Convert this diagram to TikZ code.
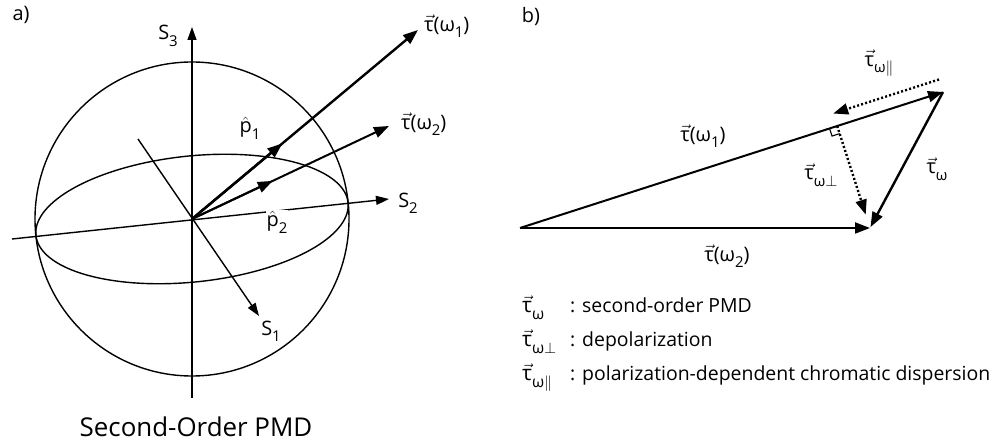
\documentclass[tikz,border=0pt]{standalone}
\usepackage{fontspec}
\setmainfont{Open Sans}
\usepackage{amsmath}
\usepackage{graphicx}
\usetikzlibrary{arrows.meta,calc}
\newcommand\tv{\ensuremath{\vec{\mbox{τ}}}}
\newcommand\lo[1]{\raisebox{-0.32em}{\scalebox{0.75}{#1}}}
\newcommand\phat{\ensuremath{\hat{\mbox{p}}}}
\tikzset{
  sphereline/.style={line width=1.4bp},
  axisarrow/.style={line width=1.4bp,-{Triangle[length=13bp,width=9bp]}},
  vecarrow/.style={line width=2.4bp,-{Triangle[length=15bp,width=11bp]}},
  medarrow/.style={line width=2bp,-{Triangle[length=15bp,width=11bp]}},
  dotarrow/.style={vecarrow,dash pattern=on 2bp off 2.2bp},
  lab/.style={font=\fontsize{20}{24}\selectfont,inner sep=1bp},
  legend/.style={font=\fontsize{19.5}{24}\selectfont,inner sep=0pt,anchor=base west},
  legsym/.style={font=\fontsize{21}{24}\selectfont,inner sep=0pt,anchor=base west}
}
\begin{document}
\begin{tikzpicture}[x=1bp,y=-1bp]
\fill[white] (0,0) rectangle (1005,441);
\useasboundingbox (0,0) rectangle (1005,441);
% ---------- panel a ----------
\node[lab] (alabel) at (21,15) {a)};
\coordinate (O) at (192,219);
\draw[sphereline] (O) circle[radius=157];
\draw[sphereline] plot[smooth cycle,domain=0:355,samples=72]
  ({192+156.1*cos(\x)+6.58*sin(\x)},{219-16.4*cos(\x)+62.65*sin(\x)});
\coordinate (s3a) at (192,398);
\coordinate (s3b) at (192,27);
\coordinate (s1a) at (138,139);
\coordinate (s1b) at (259,316);
\coordinate (s2a) at (12,239);
\coordinate (s2b) at (389,199);
\draw[axisarrow] (s3a) -- (s3b);
\draw[axisarrow] (s1a) -- (s1b);
\draw[axisarrow] (s2a) -- (s2b);
\node[lab] (S3) at (168,36) {S\lo{3}};
\node[lab] (S2) at (408,203) {S\lo{2}};
\node[lab] (S1) at (271,331) {S\lo{1}};
\coordinate (t1) at (418,30);
\coordinate (t2) at (389,126);
\coordinate (p1) at ($(O)!0.40!(t1)$);
\coordinate (p2) at ($(O)!0.41!(t2)$);
\draw[vecarrow] (O) -- (t1);
\draw[medarrow] (O) -- (t2);
\draw[vecarrow] (O) -- (p1);
\draw[medarrow] (O) -- (p2);
\node[lab,anchor=west] (t1lab) at (423,26) {\tv(ω\lo{1})};
\node[lab,anchor=west] (t2lab) at (400,124) {\tv(ω\lo{2})};
\node[lab] (p1lab) at (250,128) {\phat\lo{1}};
\node[lab,fill=white] (p2lab) at (277,222) {\phat\lo{2}};
\node[font=\fontsize{26}{30}\selectfont,anchor=base] (cap) at (196,436) {Second-Order PMD};
% ---------- panel b ----------
\node[lab] (blabel) at (531,17) {b)};
\coordinate (A) at (520,228);
\coordinate (B) at (870,228);
\coordinate (C) at (943,92);
\coordinate (F) at ($(A)!(B)!(C)$);
\coordinate (Cs) at ($(C)+(-4,-12.5)$);
\coordinate (Fs) at ($(F)+(-4,-12.5)$);
\coordinate (q1) at ($(F)!8bp!(A)$);
\coordinate (q2) at ($(F)!8bp!(B)$);
\draw[line width=1.1bp] (q1) -- ($(q1)+(q2)-(F)$) -- (q2);
\draw[medarrow] (A) -- (C);
\draw[medarrow] (A) -- (B);
\draw[vecarrow,shorten >=1bp] (C) -- (B);
\draw[dotarrow,shorten >=14bp] (F) -- (B);
\draw[dotarrow] (Cs) -- (Fs);
\node[lab] (bt1) at (703,136) {\tv(ω\lo{1})};
\node[lab] (bt2) at (727,256) {\tv(ω\lo{2})};
\node[lab] (btw) at (937,169) {\tv\lo{ω}};
\node[lab] (btperp) at (821,175) {\tv\lo{ω\ensuremath{\perp}}};
\node[lab] (btpar) at (879,63) {\tv\lo{ω\ensuremath{\parallel}}};
% legend
\node[legsym] (l1s) at (522,313) {\tv\lo{ω}};
\node[legend] (l1c) at (570,313) {:};
\node[legend] (l1t) at (582,313) {second-order PMD};
\node[legsym] (l2s) at (522,347) {\tv\lo{ω\ensuremath{\perp}}};
\node[legend] (l2c) at (570,347) {:};
\node[legend] (l2t) at (582,347) {depolarization};
\node[legsym] (l3s) at (522,381) {\tv\lo{ω\ensuremath{\parallel}}};
\node[legend] (l3c) at (570,381) {:};
\node[legend] (l3t) at (582,381) {polarization-dependent chromatic dispersion};
\end{tikzpicture}
\end{document}
